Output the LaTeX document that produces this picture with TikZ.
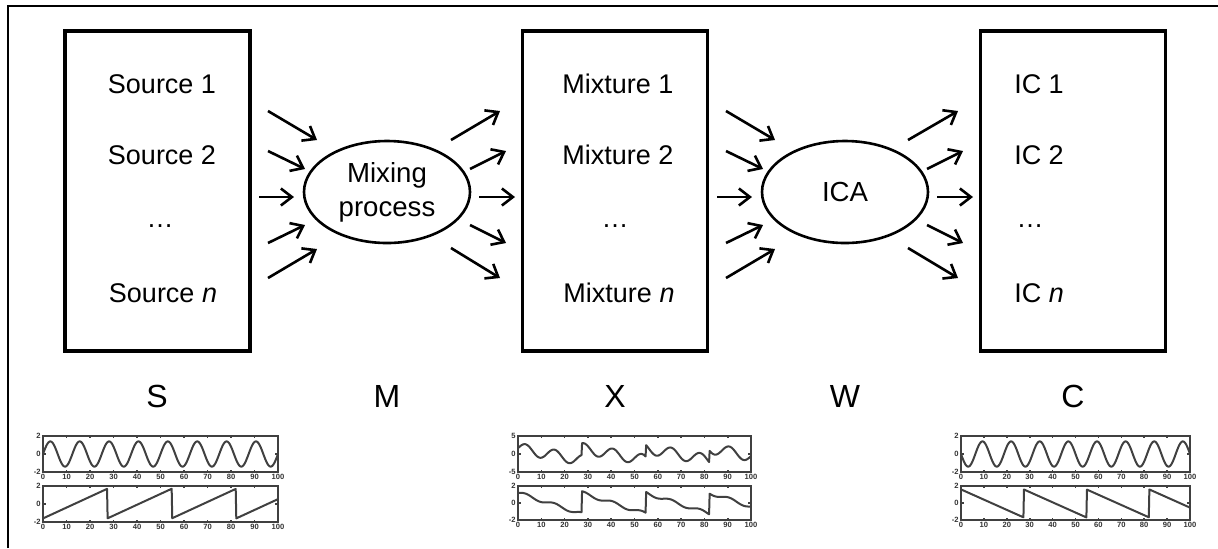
\documentclass[tikz,border=0pt]{standalone}
\usepackage{fontspec}
\setmainfont{Liberation Sans}
\usetikzlibrary{arrows.meta,shapes.geometric}

\newcommand\sawf[1]{(-1.6+3.3*mod(#1,27.4)/27.4)}
\newcommand\wavepanel[8]{% L T R B expr top-label mid-label bottom-label
  \begin{scope}[shift={({#1},{(#2+#4)/2})}, xscale={(#3-#1)/100}, yscale={-(#4-#2)/4}]
    \draw[plotframe] (0,-2) rectangle (100,2);
    \foreach \t in {10,20,...,90} {
      \draw[plotframe] (\t,2) -- (\t,1.75);
      \draw[plotframe] (\t,-2) -- (\t,-1.75);
    }
    \draw[plotframe] (0,0) -- (1.2,0);
    \draw[plotframe] (100,0) -- (98.8,0);
    \draw[curve] plot[domain=0:100,samples=401] (\x,{#5});
    \foreach \t in {0,10,...,100} {
      \node[ticklab,anchor=north] (tx\t) at (\t,-2) {\t};
    }
    \node[ticklab,anchor=east] (ty1) at (0,2) {#6};
    \node[ticklab,anchor=east] (ty2) at (0,0) {#7};
    \node[ticklab,anchor=east] (ty3) at (0,-2) {#8};
  \end{scope}}

\begin{document}
\begin{tikzpicture}[x=0.5pt,y=-0.5pt,
  box/.style={draw,line width=1.6pt,minimum width=92.5pt,minimum height=160pt,inner sep=0pt},
  ell/.style={draw,ellipse,line width=1.3pt,minimum width=83pt,minimum height=51pt,inner sep=0pt,
    align=center,font=\fontsize{13.8}{17}\selectfont},
  txt/.style={font=\fontsize{13.5}{16}\selectfont,inner sep=0pt},
  lab/.style={font=\fontsize{16}{19}\selectfont,inner sep=0pt},
  arr/.style={line width=1.3pt,-{Straight Barb[length=5.5pt,width=8.5pt]}},
  plotframe/.style={line width=0.8pt,black!75},
  curve/.style={line width=1pt,black!75,line join=round},
  ticklab/.style={font=\fontsize{3.8}{4}\bfseries\selectfont,inner sep=1pt,text=black!80},
]
\useasboundingbox (0,0) rectangle (1218,548);
% outer frame (cropped)
\draw[line width=1pt] (8,548) -- (8,6) -- (1218,6);

% boxes
\node[box] (S) at (157.5,191) {};
\node[box] (X) at (615,191) {};
\node[box] (C) at (1073,191) {};

% box texts
\node[txt] (s1) at (162,84) {Source 1};
\node[txt] (s2) at (162,155) {Source 2};
\node[txt] (s3) at (160,226) {\dots};
\node[txt] (s4) at (163,293) {Source \textit{n}};
\node[txt] (x1) at (618,84) {Mixture 1};
\node[txt] (x2) at (618,155) {Mixture 2};
\node[txt] (x3) at (615,226) {\dots};
\node[txt] (x4) at (619,293) {Mixture \textit{n}};
\node[txt] (c1) at (1039,84) {IC 1};
\node[txt] (c2) at (1039,155) {IC 2};
\node[txt] (c3) at (1030,226) {\dots};
\node[txt] (c4) at (1039,293) {IC \textit{n}};

% ellipses
\node[ell] (mix) at (387,192) {Mixing\\process};
\node[ell] (ica) at (845,192) {ICA};

% arrows into / out of mixing
\coordinate (ma1) at (268,111); \coordinate (mb1) at (317,140);
\coordinate (ma2) at (268,151); \coordinate (mb2) at (305,169);
\coordinate (ma3) at (259,197); \coordinate (mb3) at (294,197);
\coordinate (ma4) at (268,243); \coordinate (mb4) at (305,225);
\coordinate (ma5) at (268,278); \coordinate (mb5) at (317,249);
\coordinate (mc1) at (451,140); \coordinate (md1) at (500,111);
\coordinate (mc2) at (470,169); \coordinate (md2) at (506,151);
\coordinate (mc3) at (479,197); \coordinate (md3) at (515,197);
\coordinate (mc4) at (470,225); \coordinate (md4) at (506,243);
\coordinate (mc5) at (451,248); \coordinate (md5) at (500,278);
% arrows into / out of ICA
\coordinate (ia1) at (726,111); \coordinate (ib1) at (775,140);
\coordinate (ia2) at (726,151); \coordinate (ib2) at (763,169);
\coordinate (ia3) at (717,197); \coordinate (ib3) at (752,197);
\coordinate (ia4) at (726,243); \coordinate (ib4) at (763,225);
\coordinate (ia5) at (726,278); \coordinate (ib5) at (775,249);
\coordinate (ic1) at (908,140); \coordinate (id1) at (958,111);
\coordinate (ic2) at (927,169); \coordinate (id2) at (963,151);
\coordinate (ic3) at (937,197); \coordinate (id3) at (973,197);
\coordinate (ic4) at (927,225); \coordinate (id4) at (963,243);
\coordinate (ic5) at (908,248); \coordinate (id5) at (958,278);
\foreach \i in {1,...,5} {
  \draw[arr] (ma\i) -- (mb\i);
  \draw[arr] (mc\i) -- (md\i);
  \draw[arr] (ia\i) -- (ib\i);
  \draw[arr] (ic\i) -- (id\i);
}

% matrix labels
\node[lab] (lS) at (157,396) {S};
\node[lab] (lM) at (387,396) {M};
\node[lab] (lX) at (615,396) {X};
\node[lab] (lW) at (845,396) {W};
\node[lab] (lC) at (1073,396) {C};

% plots
\wavepanel{43}{436}{278}{472}{1.4*sin(28.8*\x)}{2}{0}{-2}
\wavepanel{43}{486}{278}{522}{\sawf{\x}}{2}{0}{-2}
\wavepanel{518}{436}{751}{472}{0.6*sin(28.8*\x)-0.4*\sawf{\x}}{5}{0}{-5}
\wavepanel{518}{486}{751}{520}{-0.75*\sawf{\x}+0.2*sin(28.8*\x)}{2}{0}{-2}
\wavepanel{961}{436}{1190}{472}{-1.4*sin(28.8*\x)}{2}{0}{-2}
\wavepanel{961}{486}{1190}{520}{-1*\sawf{\x}}{2}{0}{-2}
\end{tikzpicture}
\end{document}
